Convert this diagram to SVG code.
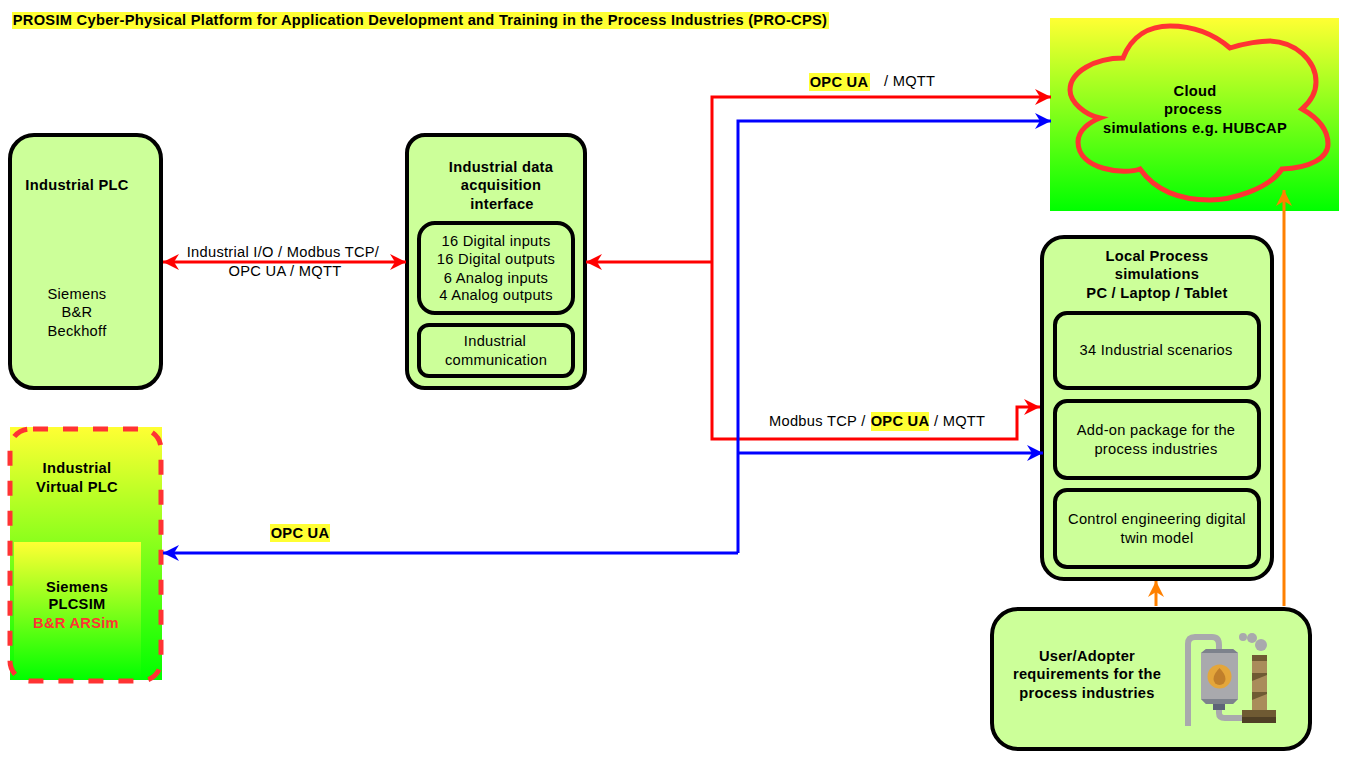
<svg xmlns="http://www.w3.org/2000/svg" width="1346" height="759" viewBox="0 0 1346 759">
<style>
text{font-family:"Liberation Sans",Arial,sans-serif;font-size:14.67px;letter-spacing:.28px;fill:#000;text-anchor:middle}
.b{font-weight:bold}
.l{text-anchor:start}
.r{fill:#ff3333}
.hl{fill:#ffff33}
.box{fill:#ccff99;stroke:#000;stroke-width:4}
.in{fill:none;stroke:#000;stroke-width:4}
.c{fill:none;stroke-width:3}
.red{stroke:#ff0000}
.blue{stroke:#0000ff}
.or{stroke:#ff8000}
</style>
<defs>
<linearGradient id="g" x1="0" y1="0" x2="0" y2="1"><stop offset="0" stop-color="#ffff33"/><stop offset="1" stop-color="#00ff00"/></linearGradient>
<marker id="ar" markerUnits="userSpaceOnUse" markerWidth="18" markerHeight="18" refX="16" refY="8" orient="auto-start-reverse"><path d="M0 0L16 8L0 16L5 8Z" fill="#ff0000"/></marker>
<marker id="ab" markerUnits="userSpaceOnUse" markerWidth="18" markerHeight="18" refX="16" refY="8" orient="auto-start-reverse"><path d="M0 0L16 8L0 16L5 8Z" fill="#0000ff"/></marker>
<marker id="ao" markerUnits="userSpaceOnUse" markerWidth="18" markerHeight="18" refX="16" refY="8" orient="auto-start-reverse"><path d="M0 0L16 8L0 16L5 8Z" fill="#ff8000"/></marker>
</defs>
<rect width="1346" height="759" fill="#fff"/>
<g id="title"><rect class="hl" x="12" y="12" width="817" height="17"/><text class="b" x="420" y="25">PROSIM Cyber-Physical Platform for Application Development and Training in the Process Industries (PRO-CPS)</text></g>
<g id="plc"><rect class="box" x="10" y="135" width="151" height="253" rx="24"/>
<text class="b" x="77" y="190">Industrial PLC</text>
<text x="77" y="299">Siemens</text><text x="77" y="317">B&amp;R</text><text x="77" y="336">Beckhoff</text></g>
<g id="daq"><rect class="box" x="407" y="135" width="178" height="253" rx="18"/>
<text class="b" x="501" y="172">Industrial data</text><text class="b" x="501" y="190">acquisition</text><text class="b" x="502" y="209">interface</text>
<rect class="in" x="419" y="223" width="154" height="90" rx="16"/>
<text x="496" y="246">16 Digital inputs</text><text x="496" y="264">16 Digital outputs</text><text x="496" y="283">6 Analog inputs</text><text x="496" y="300">4 Analog outputs</text>
<rect class="in" x="419" y="325" width="154" height="51" rx="10"/>
<text x="495" y="346">Industrial</text><text x="496" y="365">communication</text></g>
<g id="vplc"><rect x="10" y="427" width="152" height="253" fill="url(#g)"/>
<rect x="14" y="542" width="127" height="138" fill="url(#g)"/>
<rect x="10" y="429" width="151" height="252" rx="20" fill="none" stroke="#ff3333" stroke-width="5" stroke-dasharray="15 15" stroke-dashoffset="-3"/>
<text class="b" x="77" y="473">Industrial</text><text class="b" x="77" y="492">Virtual PLC</text>
<text class="b" x="77" y="592">Siemens</text><text class="b" x="77" y="609">PLCSIM</text><text class="b r" x="76" y="628">B&amp;R ARSim</text></g>
<g id="cloud"><rect x="1050" y="18" width="289" height="193" fill="url(#g)"/>
<path d="M1123 58C1132 35 1150 26 1170 26C1195 26 1215 35 1230 48C1245 43 1262 41 1270 41C1295 42 1316 60 1316 82C1316 92 1310 102 1302 109C1318 118 1328 130 1328 144C1328 158 1310 168 1282 169C1268 190 1230 200 1210 200C1180 200 1155 190 1140 169C1125 175 1078 170 1078 142C1078 130 1090 122 1100 118C1085 115 1070 102 1070 90C1070 72 1095 58 1123 58Z" fill="none" stroke="#ff3333" stroke-width="5"/>
<text class="b" x="1195" y="96">Cloud</text><text class="b" x="1193" y="114">process</text><text class="b" x="1195" y="133">simulations e.g. HUBCAP</text></g>
<g id="local"><rect class="box" x="1042" y="237" width="230" height="342" rx="22"/>
<text class="b" x="1157" y="261">Local Process</text><text class="b" x="1157" y="279">simulations</text><text class="b" x="1157" y="298">PC / Laptop / Tablet</text>
<rect class="in" x="1055" y="313" width="204" height="75" rx="12"/><text x="1156" y="355">34 Industrial scenarios</text>
<rect class="in" x="1055" y="401" width="204" height="77" rx="12"/><text x="1156" y="435">Add-on package for the</text><text x="1156" y="454">process industries</text>
<rect class="in" x="1055" y="490" width="204" height="77" rx="12"/><text x="1157" y="524">Control engineering digital</text><text x="1157" y="543">twin model</text></g>
<g id="user"><rect class="box" x="992" y="609" width="318" height="140" rx="26"/>
<text class="b" x="1087" y="661">User/Adopter</text><text class="b" x="1087" y="679">requirements for the</text><text class="b" x="1087" y="698">process industries</text>
<g id="icon">
<path d="M1188 726V644Q1188 637 1195 637H1212Q1219 637 1219 645V650" fill="none" stroke="#a9a9ad" stroke-width="6"/>
<path d="M1219 708V713Q1219 718 1225 718H1244" fill="none" stroke="#a9a9ad" stroke-width="6"/>
<path d="M1201 653L1206 649H1233L1238 653V699L1233 704H1206L1201 699Z" fill="#a9a9ad"/>
<path d="M1201 653L1206 649H1233L1238 653Z" fill="#7d828c"/>
<path d="M1201 699L1206 704H1233L1238 699Z" fill="#7d828c"/>
<rect x="1213" y="704" width="12" height="6" fill="#5e6478"/>
<circle cx="1219.5" cy="676.500" r="12" fill="#e4a63a"/>
<path d="M1219.5 668C1216 672 1213.5 675 1213.5 679A6 6 0 0 0 1225.5 679C1225.5 675 1223 672 1219.5 668Z" fill="#c07f2b"/>
<rect x="1252" y="655" width="15" height="56" fill="#a98c5a"/>
<rect x="1252" y="655" width="15" height="6" fill="#6f5a33"/>
<path d="M1252 673H1267V675L1252 681Z" fill="#6f5a33"/>
<path d="M1252 692H1267V694L1252 700Z" fill="#6f5a33"/>
<rect x="1242" y="710" width="34" height="7" fill="#6f5a33"/><rect x="1242" y="717" width="34" height="6" fill="#4f3f25"/>
<circle cx="1243" cy="637" r="4" fill="#a9a9ad"/><circle cx="1252" cy="638" r="5" fill="#a9a9ad"/><circle cx="1261" cy="645" r="6" fill="#a9a9ad"/>
</g></g>
<g id="connectors">
<path class="c red" d="M163 262H406" marker-start="url(#ar)" marker-end="url(#ar)"/>
<path class="c red" d="M712 262H586" marker-end="url(#ar)"/>
<path class="c red" d="M712 262V97H1051" marker-end="url(#ar)"/>
<path class="c red" d="M712 262V439H1017V407H1040" marker-end="url(#ar)"/>
<path class="c blue" d="M738 553V121H1051" marker-end="url(#ab)"/>
<path class="c blue" d="M738 553H163" marker-end="url(#ab)"/>
<path class="c blue" d="M738 453H1043" marker-end="url(#ab)"/>
<path class="c or" d="M1156 606V581" marker-end="url(#ao)"/>
<path class="c or" d="M1284 606V190" marker-end="url(#ao)"/>
</g>
<g id="conn-labels">
<text x="283" y="257">Industrial I/O / Modbus TCP/</text>
<text x="285" y="276">OPC UA / MQTT</text>
<rect class="hl" x="809" y="73" width="61" height="18"/><text class="b" x="839" y="87">OPC UA</text><text class="l" x="884" y="86">/ MQTT</text>
<text class="l" x="769" y="426">Modbus TCP /</text><rect class="hl" x="871" y="412" width="58" height="19"/><text class="b" x="900" y="426">OPC UA</text><text class="l" x="934" y="426">/ MQTT</text>
<rect class="hl" x="270" y="524" width="60" height="18"/><text class="b" x="300" y="538">OPC UA</text>
</g>
</svg>
